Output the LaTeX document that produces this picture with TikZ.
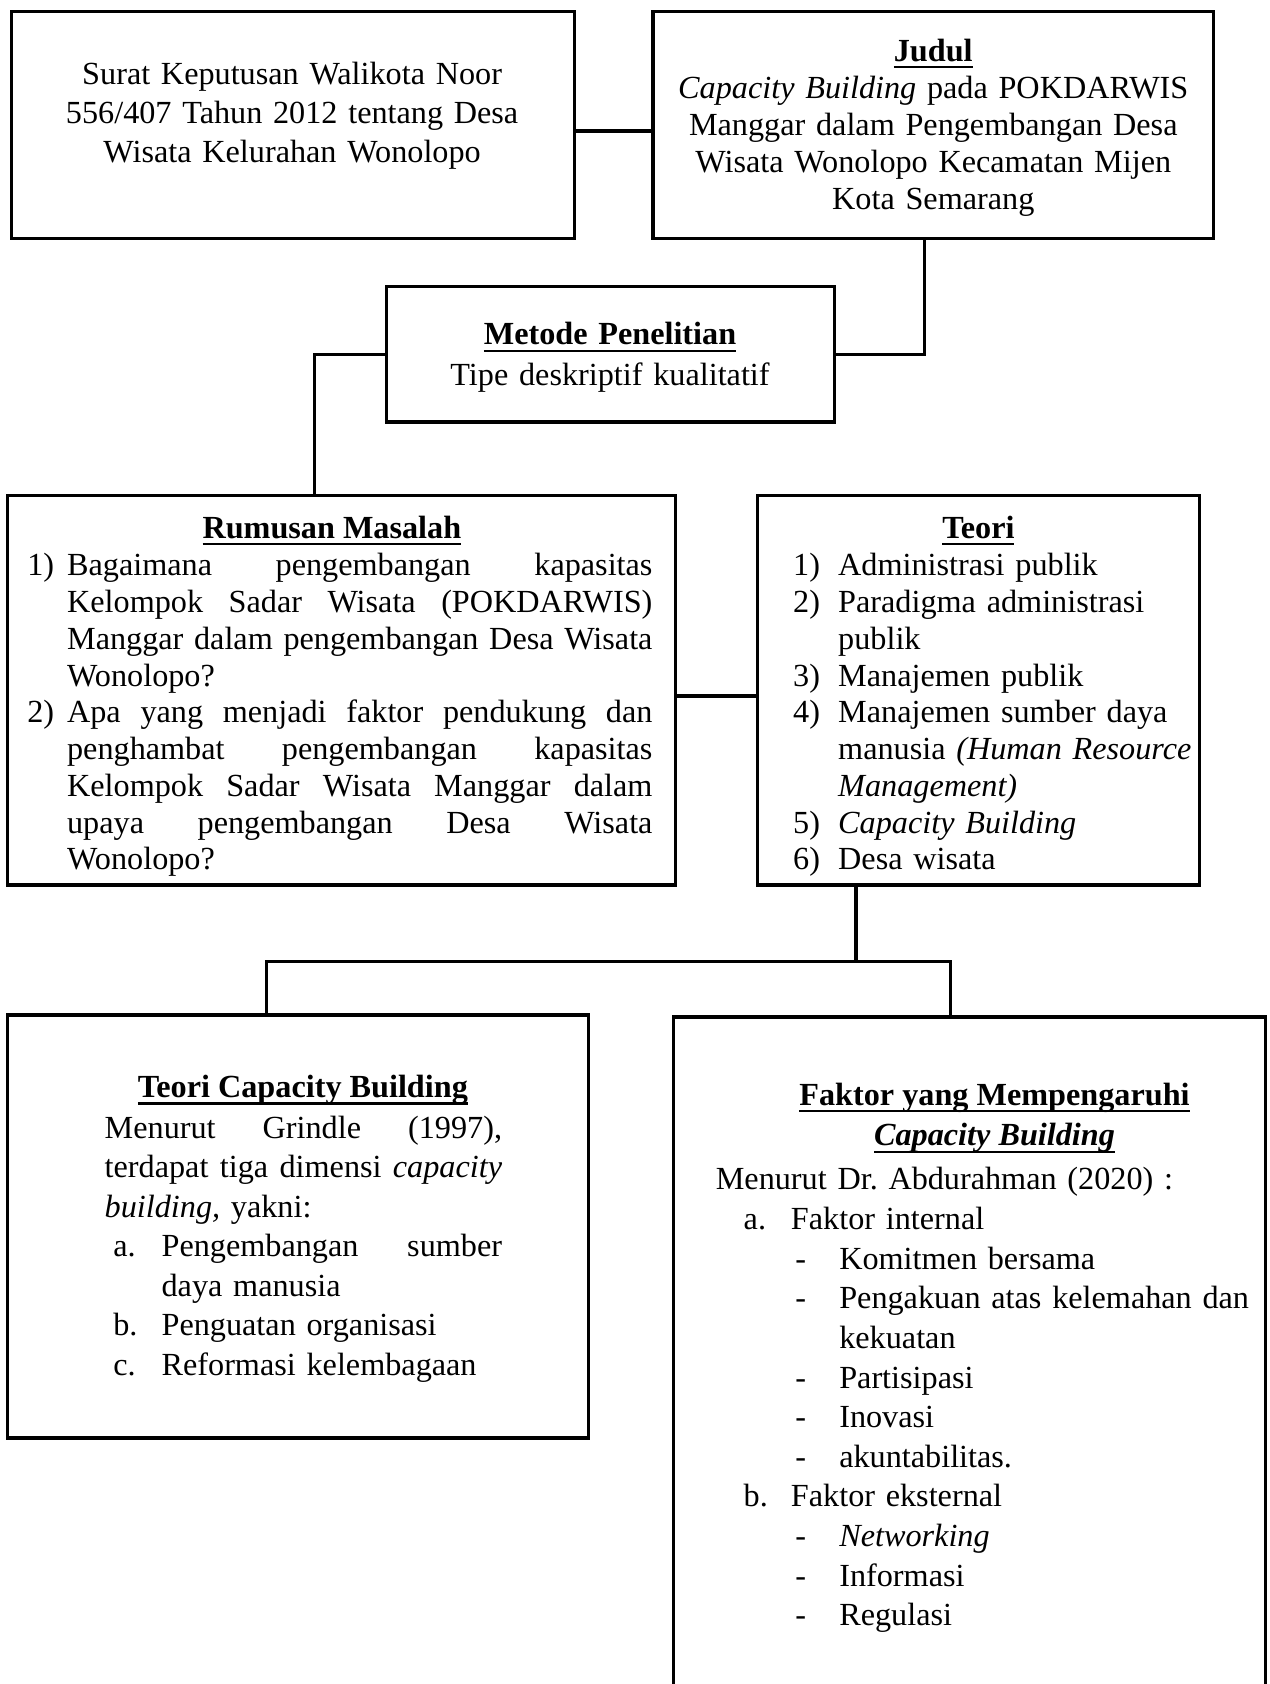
\documentclass[tikz,border=0pt]{standalone}
\usepackage{fontspec}
\setmainfont{Liberation Serif}
\usetikzlibrary{fit}
\newcommand{\jline}[2]{\leavevmode\hbox to #1{\spaceskip=0.25em plus 1fill\relax #2}}
\newcommand{\myul}[1]{\setbox0\hbox{#1}\rlap{\rule[-2.6pt]{\wd0}{0.8pt}}\box0}
\newcommand{\mytitle}[1]{\myul{\textbf{#1}}}
\begin{document}
\begin{tikzpicture}[x=0.4pt,y=-0.4pt,
  box/.style={draw, line width=1.2pt, inner sep=0pt, rectangle},
  link/.style={line width=1.2pt},
  txt/.style={inner sep=0pt, font=\fontsize{12pt}{13.8pt}\selectfont}]
\useasboundingbox (0,0) rectangle (1182,1568);
\clip (0,0) rectangle (1182,1568);

% boxes
\node[box, fit={(11,11) (535,222)}] (surat) {};
\node[box, fit={(608,11) (1130,222)}] (judul) {};
\node[box, fit={(360,267) (777,393)}] (metode) {};
\node[box, fit={(7,461) (629,824)}] (rumusan) {};
\node[box, fit={(705,461) (1117,824)}] (teori) {};
\node[box, fit={(7,945) (548,1339)}] (tcb) {};
\node[box, fit={(627,947) (1178,1640)}] (faktor) {};

% texts
\node[txt, text width=220pt, align=center, anchor=base, font=\fontsize{12pt}{14.4pt}\selectfont] (tsurat) at (272,79)
  {Surat Keputusan Walikota Noor\\556/407 Tahun 2012 tentang Desa\\Wisata Kelurahan Wonolopo};
\node[txt, text width=220pt, align=center, anchor=base, font=\fontsize{12pt}{13.85pt}\selectfont] (tjudul) at (869,57)
  {\mytitle{Judul}\\\textit{Capacity Building} pada POKDARWIS\\Manggar dalam Pengembangan Desa\\Wisata Wonolopo Kecamatan Mijen\\Kota Semarang};
\node[txt, text width=160pt, align=center, anchor=base, font=\fontsize{12pt}{15.2pt}\selectfont] (tmetode) at (568,321)
  {\mytitle{Metode Penelitian}\\Tipe deskriptif kualitatif};

\node[txt, anchor=base] (trumt) at (309,501) {\mytitle{Rumusan Masalah}};
\node[txt, text width=240pt, align=left, anchor=base west, font=\fontsize{12pt}{13.7pt}\selectfont] (trum) at (25,536)
  {\makebox[14.8pt][l]{1)}\jline{218pt}{Bagaimana pengembangan kapasitas}\\
   \hspace*{14.8pt}\jline{218pt}{Kelompok Sadar Wisata (POKDARWIS)}\\
   \hspace*{14.8pt}\jline{218pt}{Manggar dalam pengembangan Desa Wisata}\\
   \hspace*{14.8pt}Wonolopo?\\
   \makebox[14.8pt][l]{2)}\jline{218pt}{Apa yang menjadi faktor pendukung dan}\\
   \hspace*{14.8pt}\jline{218pt}{penghambat pengembangan kapasitas}\\
   \hspace*{14.8pt}\jline{218pt}{Kelompok Sadar Wisata Manggar dalam}\\
   \hspace*{14.8pt}\jline{218pt}{upaya pengembangan Desa Wisata}\\
   \hspace*{14.8pt}Wonolopo?};

\node[txt, anchor=base] (tteorit) at (911,501) {\mytitle{Teori}};
\node[txt, text width=180pt, align=left, anchor=base west, font=\fontsize{12pt}{13.7pt}\selectfont] (tteori) at (738,536)
  {\makebox[16.8pt][l]{1)}Administrasi publik\\
   \makebox[16.8pt][l]{2)}Paradigma administrasi\\
   \hspace*{16.8pt}publik\\
   \makebox[16.8pt][l]{3)}Manajemen publik\\
   \makebox[16.8pt][l]{4)}Manajemen sumber daya\\
   \hspace*{16.8pt}manusia \textit{(Human Resource}\\
   \hspace*{16.8pt}\textit{Management)}\\
   \makebox[16.8pt][l]{5)}\textit{Capacity Building}\\
   \makebox[16.8pt][l]{6)}Desa wisata};

\node[txt, anchor=base] (ttcbt) at (282,1022) {\mytitle{Teori Capacity Building}};
\node[txt, text width=170pt, align=left, anchor=base west, font=\fontsize{12pt}{14.7pt}\selectfont] (ttcb) at (97,1060)
  {\jline{148pt}{Menurut Grindle (1997),}\\
   \jline{148pt}{terdapat tiga dimensi \textit{capacity}}\\
   \textit{building,} yakni:\\
   \hspace*{3.2pt}\makebox[18pt][l]{a.}\jline{126.8pt}{Pengembangan sumber}\\
   \hspace*{21.2pt}daya manusia\\
   \hspace*{3.2pt}\makebox[18pt][l]{b.}Penguatan organisasi\\
   \hspace*{3.2pt}\makebox[18pt][l]{c.}Reformasi kelembagaan};

\node[txt, anchor=base] (tfakt1) at (926,1029) {\mytitle{Faktor yang Mempengaruhi}};
\node[txt, anchor=base] (tfakt2) at (926,1067) {\myul{\textbf{\textit{Capacity Building}}}};
\node[txt, text width=220pt, align=left, anchor=base west, font=\fontsize{12pt}{14.75pt}\selectfont] (tfakt) at (666,1108)
  {Menurut Dr.\ Abdurahman (2020) :\\
   \hspace*{10.4pt}\makebox[17.6pt][l]{a.}Faktor internal\\
   \hspace*{29.6pt}\makebox[16.4pt][l]{-}Komitmen bersama\\
   \hspace*{29.6pt}\makebox[16.4pt][l]{-}Pengakuan atas kelemahan dan\\
   \hspace*{46pt}kekuatan\\
   \hspace*{29.6pt}\makebox[16.4pt][l]{-}Partisipasi\\
   \hspace*{29.6pt}\makebox[16.4pt][l]{-}Inovasi\\
   \hspace*{29.6pt}\makebox[16.4pt][l]{-}akuntabilitas.\\
   \hspace*{10.4pt}\makebox[17.6pt][l]{b.}Faktor eksternal\\
   \hspace*{29.6pt}\makebox[16.4pt][l]{-}\textit{Networking}\\
   \hspace*{29.6pt}\makebox[16.4pt][l]{-}Informasi\\
   \hspace*{29.6pt}\makebox[16.4pt][l]{-}Regulasi};

% connectors
\coordinate (jl) at (248,895);
\coordinate (jr) at (885,895);
\coordinate (jm) at (797,895);
\coordinate (jtop) at (861,330);
\coordinate (jleft) at (293,330);
\draw[link] (surat.east |- 0,122) -- (judul.west |- 0,122);
\draw[link] (judul.south -| jtop) -- (jtop) -- (metode.east);
\draw[link] (metode.west) -- (jleft) -- (rumusan.north -| jleft);
\draw[link] (rumusan.east |- 0,648) -- (teori.west |- 0,648);
\draw[link] (teori.south -| jm) -- (jm);
\draw[link] (tcb.north -| jl) -- (jl) -- (jr) -- (faktor.north -| jr);
\end{tikzpicture}
\end{document}
